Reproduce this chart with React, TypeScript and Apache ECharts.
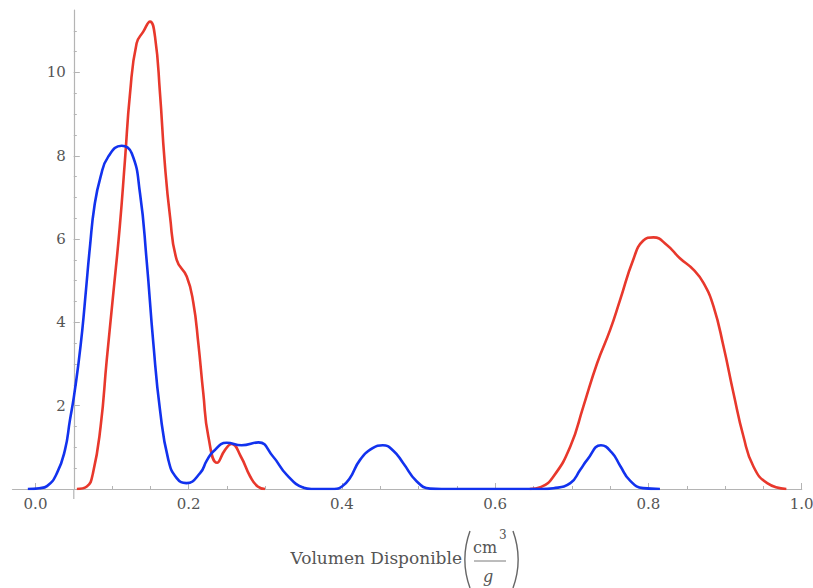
import React, { useEffect, useRef } from "react";
import * as echarts from "echarts";

// Density estimate, sample drawn in blue
const blueX = [
  -0.01, 0.005, 0.015, 0.028, 0.0385, 0.045, 0.05, 0.056, 0.061, 0.066, 0.071, 0.077,
  0.085, 0.095, 0.1125, 0.1256, 0.1364, 0.145, 0.1538, 0.1625, 0.1734, 0.1843, 0.197,
  0.2148, 0.2235, 0.232, 0.2496, 0.269, 0.291, 0.31, 0.328, 0.35, 0.36, 0.39, 0.4, 0.41,
  0.4236, 0.44, 0.4533, 0.467, 0.48, 0.4977, 0.515, 0.53, 0.6, 0.66, 0.676, 0.698, 0.711,
  0.72, 0.738, 0.752, 0.763, 0.776, 0.793, 0.815,
];
const blueY = [
  0, 0.02, 0.07, 0.38, 0.94, 1.66, 2.2, 3.0, 3.8, 4.8, 5.8, 6.8,
  7.5, 7.98, 8.24, 8.06, 7.1, 5.5, 3.5, 1.9, 0.7, 0.26, 0.14,
  0.38, 0.68, 0.9, 1.11, 1.05, 1.12, 0.78, 0.34, 0.03, 0, 0, 0.06, 0.25,
  0.7, 0.98, 1.05, 0.92, 0.62, 0.18, 0.01, 0, 0, 0, 0.02, 0.14, 0.46,
  0.7, 1.05, 0.88, 0.56, 0.2, 0.02, 0,
];

// Density estimate, sample drawn in red (two separate supports)
const redLowX = [
  0.054, 0.067, 0.075, 0.085, 0.093, 0.1016, 0.11, 0.1168, 0.1234, 0.132, 0.1407, 0.1495,
  0.156, 0.1625, 0.1684, 0.1756, 0.1843, 0.1974, 0.206, 0.2125, 0.219, 0.2256, 0.237,
  0.2474, 0.256, 0.268, 0.2802, 0.29, 0.2996,
];
const redLowY = [
  0, 0.06, 0.38, 1.5, 3.1, 4.7, 6.3, 7.9, 9.5, 10.7, 10.98, 11.22,
  10.86, 9.5, 7.9, 6.54, 5.5, 5.1, 4.47, 3.5, 2.3, 1.26, 0.63,
  0.94, 1.08, 0.78, 0.3, 0.06, 0,
];
const redHighX = [
  0.645, 0.66, 0.676, 0.698, 0.715, 0.733, 0.75, 0.763, 0.78, 0.793, 0.8066, 0.824, 0.841,
  0.859, 0.872, 0.885, 0.898, 0.911, 0.924, 0.937, 0.955, 0.98,
];
const redHighY = [
  0, 0.05, 0.3, 1.02, 1.98, 3.02, 3.82, 4.54, 5.5, 5.96, 6.04, 5.86, 5.54,
  5.26, 4.94, 4.38, 3.42, 2.3, 1.26, 0.54, 0.14, 0,
];

// Axis ticks
const xMajorTicks = [0, 0.2, 0.4, 0.6, 0.8, 1.0];
const xMinorTicks = [
  0, 0.1, 0.15, 0.2, 0.25, 0.3, 0.35, 0.4, 0.45, 0.5, 0.55, 0.6, 0.65, 0.7, 0.75, 0.8,
  0.85, 0.9, 0.95, 1.0,
];
const yMajorTicks = [2, 4, 6, 8, 10];
const yMinorTicks = [
  0.5, 1, 1.5, 2, 2.5, 3, 3.5, 4, 4.5, 5, 5.5, 6, 6.5, 7, 7.5, 8, 8.5, 9, 9.5, 10, 10.5, 11,
];

const X_MIN = -0.03;
const X_MAX = 1.0;
const Y_MIN = 0;
const Y_MAX = 11.5;
const Y_AXIS_AT = 0.05;

const W = 813;
const H = 588;
const GRID = { left: 12.5, right: 11.3, top: 10, bottom: 99 };

const RED = "#e8382c";
const BLUE = "#1232ee";
const AXIS = "#b4b4b4";
const LABEL = "#555555";
const FONT = "'DejaVu Serif', 'Liberation Serif', serif";
const TICK_FONT_SIZE = 15;

const zip = (xs: number[], ys: number[]) => xs.map((x, i) => [x, ys[i]]);

// A thin round bracket drawn as a circular arc through the three points
// (tipX, top), (bulgeX, middle), (tipX, bottom)
function bracket(tipX: number, bulgeX: number, top: number, bottom: number) {
  const half = (bottom - top) / 2;
  const sag = Math.abs(tipX - bulgeX);
  const r = (half * half + sag * sag) / (2 * sag);
  const a = Math.asin(half / r);
  const cy = (top + bottom) / 2;
  const left = bulgeX < tipX;
  const cx = left ? bulgeX + r : bulgeX - r;
  return {
    type: "arc",
    shape: {
      cx,
      cy,
      r,
      startAngle: left ? Math.PI - a : -a,
      endAngle: left ? Math.PI + a : a,
      clockwise: true,
    },
    style: { stroke: "#666666", lineWidth: 1.4, fill: "none" },
  };
}

export default function App() {
  const ref = useRef<HTMLDivElement>(null);

  useEffect(() => {
    if (!ref.current) return;
    // the chart fills the whole window, so drop the page's default margin
    const prevMargin = document.body.style.margin;
    document.body.style.margin = "0";

    const chart = echarts.init(ref.current, undefined, { renderer: "svg" });

    const gridW = W - GRID.left - GRID.right;
    const yAxisOffset = -((Y_AXIS_AT - X_MIN) / (X_MAX - X_MIN)) * gridW;

    const curve = (data: number[][], color: string) => ({
      type: "line",
      data,
      smooth: 0.5,
      showSymbol: false,
      symbol: "none",
      lineStyle: { color, width: 2.6 },
      z: color === BLUE ? 3 : 2,
    });

    const baseX = {
      type: "value",
      position: "bottom",
      min: X_MIN,
      max: X_MAX,
      splitLine: { show: false },
      axisLine: { show: true, onZero: false, lineStyle: { color: AXIS, width: 1.2 } },
    };
    const baseY = {
      type: "value",
      position: "left",
      min: Y_MIN,
      max: Y_MAX,
      offset: yAxisOffset,
      splitLine: { show: false },
      axisLine: { show: true, onZero: false, lineStyle: { color: AXIS, width: 1.2 } },
    };
    const tickText = {
      color: LABEL,
      fontFamily: FONT,
      fontSize: TICK_FONT_SIZE,
    };

    chart.setOption({
      animation: false,
      backgroundColor: "#ffffff",
      grid: { ...GRID, containLabel: false, outerBoundsMode: "none" },
      xAxis: [
        {
          ...baseX,
          axisTick: {
            show: true,
            inside: true,
            length: 3,
            customValues: xMinorTicks,
            lineStyle: { color: AXIS, width: 1 },
          },
          axisLabel: { show: false },
        },
        {
          ...baseX,
          axisLine: { show: false, onZero: false },
          axisTick: {
            show: true,
            inside: true,
            length: 6,
            customValues: xMajorTicks,
            lineStyle: { color: AXIS, width: 1 },
          },
          axisLabel: {
            ...tickText,
            show: true,
            customValues: xMajorTicks,
            margin: 7,
            formatter: (v: number) => v.toFixed(1),
          },
        },
      ],
      yAxis: [
        {
          ...baseY,
          axisTick: {
            show: true,
            inside: true,
            length: 3,
            customValues: yMinorTicks,
            lineStyle: { color: AXIS, width: 1 },
          },
          axisLabel: { show: false },
        },
        {
          ...baseY,
          axisLine: { show: false, onZero: false },
          axisTick: {
            show: true,
            inside: true,
            length: 6,
            customValues: yMajorTicks,
            lineStyle: { color: AXIS, width: 1 },
          },
          axisLabel: {
            ...tickText,
            show: true,
            customValues: yMajorTicks,
            margin: 8,
          },
        },
      ],
      series: [
        curve(zip(redLowX, redLowY), RED),
        curve(zip(redHighX, redHighY), RED),
        curve(zip(blueX, blueY), BLUE),
      ],
    });

    // Axis frame details and the x-axis title with its unit
    const origin = chart.convertToPixel({ xAxisIndex: 0, yAxisIndex: 0 }, [Y_AXIS_AT, 0]) as number[];
    chart.setOption({
      graphic: [
        {
          type: "line",
          shape: { x1: origin[0], y1: origin[1], x2: origin[0], y2: origin[1] + 10 },
          style: { stroke: AXIS, lineWidth: 1.2 },
        },
        {
          type: "text",
          x: 462,
          y: 558,
          style: {
            text: "Volumen Disponible",
            font: `17px ${FONT}`,
            fill: LABEL,
            align: "right",
            verticalAlign: "middle",
          },
        },
        bracket(470, 465, 531, 588),
        bracket(513, 518, 531, 588),
        {
          type: "text",
          x: 485,
          y: 547,
          style: {
            text: "cm",
            font: `16px ${FONT}`,
            fill: LABEL,
            align: "center",
            verticalAlign: "middle",
          },
        },
        {
          type: "text",
          x: 499,
          y: 535,
          style: {
            text: "3",
            font: `12px ${FONT}`,
            fill: LABEL,
            align: "left",
            verticalAlign: "middle",
          },
        },
        {
          type: "line",
          shape: { x1: 474, y1: 561, x2: 506, y2: 561 },
          style: { stroke: "#7a7a7a", lineWidth: 1 },
        },
        {
          type: "text",
          x: 488,
          y: 576,
          style: {
            text: "g",
            font: `italic 16px ${FONT}`,
            fill: LABEL,
            align: "center",
            verticalAlign: "middle",
          },
        },
      ],
    });

    return () => {
      chart.dispose();
      document.body.style.margin = prevMargin;
    };
  }, []);

  return <div ref={ref} style={{ width: W, height: H }} />;
}
